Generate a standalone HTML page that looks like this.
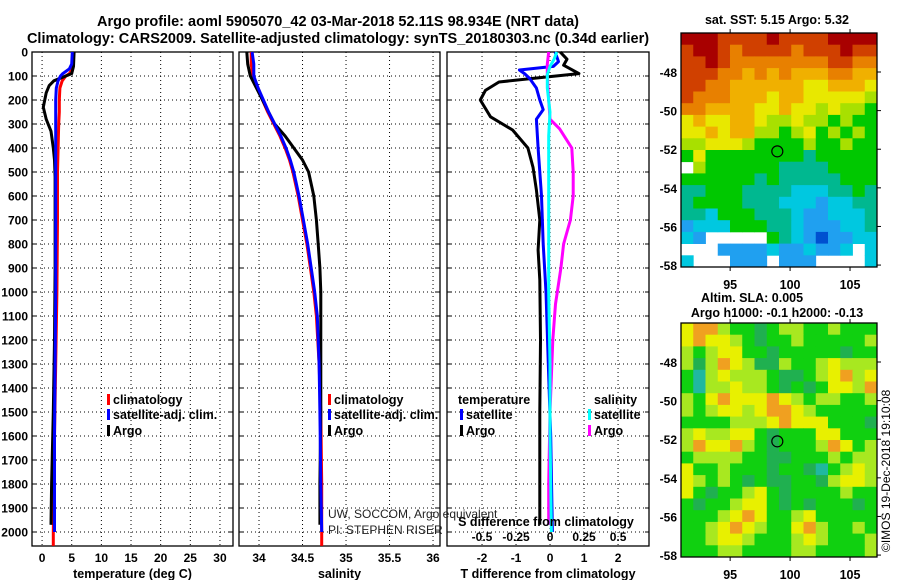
<!DOCTYPE html>
<html><head><meta charset="utf-8"><style>
html,body{margin:0;padding:0;background:#fff;}
svg{display:block;font-family:"Liberation Sans",Arial,sans-serif;}
.b{font-weight:bold;}
</style></head><body>
<svg id="c" width="900" height="580" viewBox="0 0 900 580">
<text x="338" y="26" class="b" font-size="14.5" text-anchor="middle">Argo profile: aoml 5905070_42 03-Mar-2018 52.11S 98.934E (NRT data)</text>
<text x="338" y="43" class="b" font-size="14.5" text-anchor="middle">Climatology: CARS2009. Satellite-adjusted climatology: synTS_20180303.nc (0.34d earlier)</text>
<text x="777" y="24" class="b" font-size="12.5" text-anchor="middle">sat. SST: 5.15 Argo: 5.32</text>
<text x="752" y="302" class="b" font-size="12.5" text-anchor="middle">Altim. SLA: 0.005</text>
<text x="777" y="317" class="b" font-size="12.5" text-anchor="middle">Argo h1000: -0.1 h2000: -0.13</text>
<text x="0" y="0" font-size="12" transform="translate(890,552) rotate(-90)">©IMOS 19-Dec-2018 19:10:08</text>
<g id="g"></g>
</svg>
<script>
// depth axis
const depthTicks=[0,100,200,300,400,500,600,700,800,900,1000,1100,1200,1300,1400,1500,1600,1700,1800,1900,2000];
// temperature panel
const tempTicks=[0,5,10,15,20,25,30];
const tClimDepth=[0,50,70,90,100,120,150,200,250,300,400,500,700,1000,1300,1600,1800,2000,2058];
const tClim=[5.3,5.3,5.1,4.6,4.0,3.4,3.0,2.9,2.9,2.8,2.7,2.6,2.6,2.5,2.3,2.1,2.0,1.9,1.9];
const tSatDepth=[0,50,70,90,100,120,150,200,250,300,400,500,700,1000,1300,1600,1800,2000];
const tSat=[5.1,5.0,4.6,3.5,3.1,2.7,2.4,2.3,2.3,2.3,2.3,2.3,2.3,2.3,2.2,2.1,2.1,2.1];
const tArgoDepth=[0,60,90,105,120,140,170,230,280,330,400,450,520,900,1200,1500,1800,1970];
const tArgo=[5.4,5.3,5.0,3.5,2.0,1.2,0.7,0.2,0.7,1.5,1.9,2.1,2.2,2.2,2.1,1.9,1.6,1.5];
// salinity panel
const salTicks=[34,34.5,35,35.5,36];
const sClimDepth=[0,50,100,150,200,250,300,350,400,450,500,600,700,800,900,1000,1100,1300,1500,1800,2000,2058];
const sClim=[33.91,33.91,33.93,33.99,34.04,34.10,34.17,34.24,34.30,34.35,34.39,34.45,34.50,34.55,34.59,34.63,34.66,34.69,34.71,34.72,34.72,34.72];
const sSatDepth=[0,50,100,150,200,250,300,350,400,450,500,600,700,800,900,1000,1100,1300,1500,1800,2000];
const sSat=[33.92,33.94,33.94,33.99,34.05,34.11,34.18,34.25,34.31,34.36,34.40,34.46,34.51,34.56,34.60,34.64,34.67,34.69,34.70,34.71,34.72];
const sArgoDepth=[0,50,100,150,200,250,300,350,400,450,500,550,600,700,800,900,1000,1200,1500,1800,1970];
const sArgo=[33.86,33.87,33.90,33.97,34.04,34.11,34.18,34.30,34.40,34.50,34.57,34.60,34.63,34.66,34.68,34.70,34.71,34.71,34.71,34.70,34.70];
// difference panel
const dTTicks=[-2,-1,0,1,2];
const dSTicks=[-0.5,-0.25,0,0.25,0.5];
const dTArgoDepth=[0,30,55,90,110,125,160,200,270,325,400,480,575,700,825,950,1200,1500,1800,1970];
const dTArgo=[0.3,0.5,0.4,0.85,-0.5,-1.5,-1.9,-2.05,-1.75,-1.1,-0.65,-0.5,-0.4,-0.3,-0.35,-0.3,-0.28,-0.3,-0.3,-0.3];
const dTSatDepth=[0,40,60,75,90,110,150,200,240,280,400,600,800,1000,1300,1600,2000];
const dTSat=[0.15,0.25,0.1,-0.9,-0.75,-0.6,-0.4,-0.3,-0.2,-0.4,-0.35,-0.25,-0.2,-0.12,-0.05,0.02,0.07];
const dSSatDepth=[0,30,60,95,150,250,350,500,700,1000,1300,1600,2000];
const dSSat=[0.05,0.03,0.0,-0.02,-0.02,0.0,-0.01,-0.01,-0.01,-0.01,0.0,0.0,0.01];
const dSArgoDepth=[0,50,100,200,280,320,400,500,600,700,800,900,1050,1200,1500,1800,1970];
const dSArgo=[-0.01,-0.02,-0.02,-0.01,0.0,0.07,0.16,0.17,0.17,0.15,0.1,0.08,0.04,0.02,0.0,-0.01,-0.01];
// maps
const latTicks=[-48,-50,-52,-54,-56,-58];
const lonTicks=[95,100,105];
const floatLon=98.934, floatLat=-52.11;
const sstGrid=[
[0,0,0,1,1,1,1,0,1,1,1,1,0,0,0,0],
[1,0,0,1,2,1,1,1,1,2,1,1,1,0,1,1],
[1,1,0,1,2,2,2,2,2,2,2,2,1,1,2,2],
[1,1,1,2,2,3,2,3,2,3,3,3,2,2,3,3],
[1,1,2,2,3,3,3,3,3,3,4,4,3,3,3,4],
[1,2,2,2,3,3,3,4,3,3,4,4,4,4,4,5],
[2,2,3,3,3,3,4,4,3,4,4,5,4,5,5,6],
[4,3,4,4,3,3,4,5,5,4,5,5,6,5,6,6],
[4,4,3,4,3,3,5,5,6,5,4,6,5,6,5,6],
[5,5,4,4,4,5,6,6,6,6,5,6,6,5,6,6],
[6,4,6,6,6,6,6,6,6,6,7,6,6,6,6,6],
[-1,5,6,6,6,6,6,6,7,7,7,7,6,6,6,6],
[6,6,6,6,6,6,7,6,7,7,7,7,7,6,6,6],
[7,7,6,6,6,7,7,7,7,8,8,8,7,7,6,7],
[7,6,6,6,6,7,7,7,8,8,8,9,8,8,7,7],
[7,7,8,6,6,6,7,7,7,8,9,9,8,8,8,7],
[9,8,8,8,6,6,6,7,7,8,9,9,9,8,8,7],
[8,9,-1,-1,-1,-1,-1,6,7,8,9,10,9,9,8,8],
[-1,-1,-1,9,9,9,9,8,9,9,8,9,9,8,-1,8],
[8,-1,-1,-1,9,9,9,-1,9,9,9,-1,-1,-1,-1,8]];
const slaGrid=[
[4,5,5,3,2,2,1,2,3,3,2,2,3,2,2,2],
[4,5,4,4,3,2,1,2,2,3,2,2,2,2,2,3],
[3,2,3,4,4,2,2,1,2,2,2,2,2,1,2,2],
[3,1,3,5,4,3,1,1,3,2,2,3,4,3,3,3],
[2,0,3,4,3,3,3,2,1,1,2,3,4,5,3,4],
[2,0,3,3,4,3,3,2,1,2,1,2,4,4,3,5],
[3,2,4,5,4,4,4,5,4,3,2,3,3,2,2,3],
[3,2,3,4,4,3,4,5,5,4,3,2,2,2,2,2],
[2,2,2,2,3,3,3,4,5,4,4,4,2,2,2,1],
[3,4,3,3,4,4,2,1,2,2,2,4,4,2,2,2],
[3,5,4,4,5,3,2,1,2,2,2,3,5,4,2,3],
[2,3,3,3,3,2,2,1,1,2,2,2,3,2,3,3],
[4,2,2,3,2,2,2,1,2,2,1,0,2,3,4,3],
[4,3,2,3,2,1,2,1,1,2,2,1,3,4,4,3],
[4,2,1,2,2,3,4,2,1,2,2,2,2,3,2,2],
[2,1,2,2,3,4,4,2,1,2,1,2,2,2,1,2],
[2,2,2,3,4,5,4,2,2,3,4,2,2,2,2,2],
[2,2,3,4,5,4,3,2,2,4,5,3,2,2,3,2],
[2,2,3,4,4,3,2,2,2,3,4,3,2,2,2,3],
[2,2,2,3,3,2,2,2,2,3,3,2,2,2,2,3]];

const NS='http://www.w3.org/2000/svg';
const G=document.getElementById('g');
function mk(tag,attrs,parent){const e=document.createElementNS(NS,tag);for(const k in attrs)e.setAttribute(k,attrs[k]);(parent||G).appendChild(e);return e;}
const Y0=52, YS=0.24, YB=546;
function yD(d){return Y0+d*YS;}
const panels=[
 {x0:32,x1:233,v0:-1.7,v1:32.2,ticks:tempTicks,title:'temperature (deg C)',name:'temperature'},
 {x0:239,x1:440,v0:33.77,v1:36.08,ticks:salTicks,title:'salinity',name:'salinity'},
 {x0:447,x1:649,v0:-3.03,v1:2.91,ticks:dTTicks,title:'T difference from climatology',name:'t-difference'}];
function xs(p){return v=>p.x0+(v-p.v0)/(p.v1-p.v0)*(p.x1-p.x0);}
panels.forEach((p,i)=>{
  const X=xs(p);
  const pg=mk('g',{});
  
  
  depthTicks.forEach(d=>{
    const l=mk('line',{x1:p.x0,x2:p.x1,y1:yD(d),y2:yD(d),stroke:'#000','stroke-width':1,'stroke-dasharray':'1,3'},pg);
    
    
    mk('line',{x1:p.x0,x2:p.x0+4,y1:yD(d),y2:yD(d),stroke:'#000'},pg);
    mk('line',{x1:p.x1-4,x2:p.x1,y1:yD(d),y2:yD(d),stroke:'#000'},pg);
  });
  p.ticks.forEach(v=>{
    const l=mk('line',{x1:X(v),x2:X(v),y1:Y0,y2:YB,stroke:'#000','stroke-width':1,'stroke-dasharray':'1,3'},pg);
    
    
    const t=mk('text',{x:X(v),y:562,'text-anchor':'middle','font-size':12,'font-weight':'bold'},pg);
    t.textContent=String(v);
    
    
  });
  const f=mk('rect',{x:p.x0,y:Y0,width:p.x1-p.x0,height:YB-Y0,fill:'none',stroke:'#000','stroke-width':1.3},pg);
  
  
  const tt=mk('text',{x:(p.x0+p.x1)/2,y:578,'text-anchor':'middle','font-size':12.5,'font-weight':'bold'},pg);
  tt.textContent=p.title;
  
  
});
depthTicks.forEach(d=>{
  const t=mk('text',{x:28,y:yD(d)+4.5,'text-anchor':'end','font-size':12,'font-weight':'bold'});
  t.textContent=String(d);
  
  
});
function line(X,depths,vals,color,name,w){
  const pts=depths.map((d,i)=>X(vals[i]).toFixed(1)+','+yD(d).toFixed(1)).join(' ');
  const e=mk('polyline',{points:pts,fill:'none',stroke:color,'stroke-width':w||3,'stroke-linejoin':'round'});
  
  
}
const X1=xs(panels[0]),X2=xs(panels[1]),X3=xs(panels[2]);
const XS=v=>X3(v*4);
line(X1,tClimDepth,tClim,'#f00','temp-climatology-line');
line(X1,tArgoDepth,tArgo,'#000','temp-argo-line');
line(X1,tSatDepth,tSat,'#00f','temp-satellite-line');
line(X2,sClimDepth,sClim,'#f00','sal-climatology-line');
line(X2,sArgoDepth,sArgo,'#000','sal-argo-line');
line(X2,sSatDepth,sSat,'#00f','sal-satellite-line');
line(X3,dTArgoDepth,dTArgo,'#000','t-diff-argo-line');
line(X3,dTSatDepth,dTSat,'#00f','t-diff-satellite-line');
line(XS,dSArgoDepth,dSArgo,'#f0f','s-diff-argo-line');
line(XS,dSSatDepth,dSSat,'#0ff','s-diff-satellite-line');
// S diff axis labels
dSTicks.forEach(v=>{
  const t=mk('text',{x:XS(v),y:541,'text-anchor':'middle','font-size':12,'font-weight':'bold'});
  t.textContent=String(v);
  
  
});
const sdt=mk('text',{x:546,y:526,'text-anchor':'middle','font-size':12.5,'font-weight':'bold'});
sdt.textContent='S difference from climatology';


[['UW, SOCCOM, Argo equivalent',518],['PI: STEPHEN RISER',534]].forEach(a=>{
  const t=mk('text',{x:328,y:a[1],'font-size':12,fill:'#222'});
  t.textContent=a[0];
  
  
});
// legends
function legend(x,y,color,label){
  const r=mk('rect',{x:x,y:y-9,width:3,height:11,fill:color});
  
  
  const t=mk('text',{x:x+6,y:y+1,'font-size':12.5,'font-weight':'bold'});
  t.textContent=label;
  
  
}
legend(107,403,'#f00','climatology');legend(107,418,'#00f','satellite-adj. clim.');legend(107,434,'#000','Argo');
legend(328,403,'#f00','climatology');legend(328,418,'#00f','satellite-adj. clim.');legend(328,434,'#000','Argo');
const lt=mk('text',{x:458,y:404,'font-size':12.5,'font-weight':'bold'});lt.textContent='temperature';


const ls=mk('text',{x:594,y:404,'font-size':12.5,'font-weight':'bold'});ls.textContent='salinity';


legend(460,418,'#00f','satellite');legend(460,434,'#000','Argo');
legend(588,418,'#0ff','satellite');legend(588,434,'#f0f','Argo');
// maps
const LON0=90.9,LON1=107.25,LAT0=-45.98,LAT1=-58.1;
const sstColors=['#a80000','#d04000','#e88000','#f0b000','#e8e800','#a8e000','#00c800','#00b890','#00c8e0','#20a0f0','#0050d0'];
const slaColors=['#20b8a0','#20b050','#10d010','#a8e820','#e8f000','#f0a020'];
function drawMap(top,bottom,grid,colors,name){
  const x0=681,x1=877;
  const LX=v=>x0+(v-LON0)/(LON1-LON0)*(x1-x0);
  const LY=v=>top+(v-LAT0)/(LAT1-LAT0)*(bottom-top);
  const mg=mk('g',{});
  
  
  const rows=grid.length,cols=grid[0].length,cw=(x1-x0)/cols,ch=(bottom-top)/rows;
  grid.forEach((row,r)=>row.forEach((v,c)=>{
    if(v<0)return;
    const cell=mk('rect',{x:(x0+c*cw).toFixed(2),y:(top+r*ch).toFixed(2),width:(cw+0.4).toFixed(2),height:(ch+0.4).toFixed(2),fill:colors[v]},mg);
    
    
  }));
  const fr=mk('rect',{x:x0,y:top,width:x1-x0,height:bottom-top,fill:'none',stroke:'#000','stroke-width':1.3},mg);
  
  
  latTicks.forEach(v=>{
    mk('line',{x1:x1,x2:x1+4,y1:LY(v),y2:LY(v),stroke:'#000'},mg);
    const t=mk('text',{x:677,y:LY(v)+5,'text-anchor':'end','font-size':12,'font-weight':'bold'},mg);
    t.textContent=String(v);
    
    
  });
  lonTicks.forEach(v=>{
    mk('line',{x1:LX(v),x2:LX(v),y1:top-4,y2:top,stroke:'#000'},mg);
    mk('line',{x1:LX(v),x2:LX(v),y1:bottom,y2:bottom+4,stroke:'#000'},mg);
    const t=mk('text',{x:LX(v),y:bottom+22,'text-anchor':'middle','font-size':12.5,'font-weight':'bold'},mg);
    t.textContent=String(v);
    
    
  });
  const m=mk('circle',{cx:LX(floatLon),cy:LY(floatLat),r:5.5,fill:'none',stroke:'#000','stroke-width':1.2},mg);
  
  
}
drawMap(33,267,sstGrid,sstColors,'sst-map');
drawMap(323,557,slaGrid,slaColors,'sla-map');
</script>
</body></html>
